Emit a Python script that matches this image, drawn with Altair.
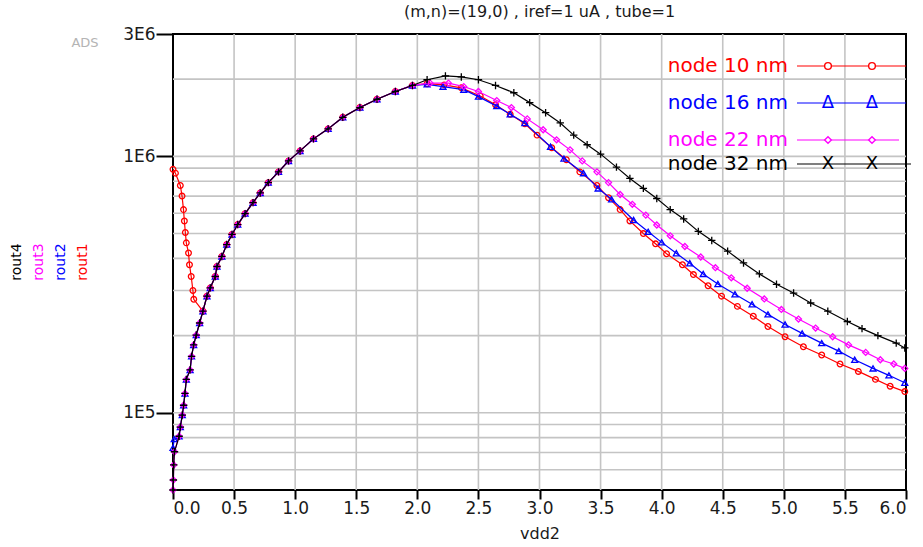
import altair as alt
import pandas as pd

TITLE = "(m,n)=(19,0) , iref=1 uA , tube=1"
X_TITLE = "vdd2"
X_TICKS = [0.0, 0.5, 1.0, 1.5, 2.0, 2.5, 3.0, 3.5, 4.0, 4.5, 5.0, 5.5, 6.0]
Y_TICKS = [1e5, 1e6, 3e6]
GRID_X = [0.5, 1.0, 1.5, 2.0, 2.5, 3.0, 3.5, 4.0, 4.5, 5.0, 5.5]
GRID_Y = [6e4, 7e4, 8e4, 9e4, 1e5, 2e5, 3e5, 4e5, 5e5, 6e5, 7e5, 8e5, 9e5, 1e6, 2e6]

SERIES = ["rout1", "rout2", "rout3", "rout4"]
LABELS = ["node 10 nm", "node 16 nm", "node 22 nm", "node 32 nm"]
COLORS = ["#ff0000", "#0000ff", "#ff00ff", "#000000"]

# common rising part (all curves coincide)
RISE_X = [0.000, 0.003, 0.006, 0.012, 0.050, 0.060, 0.076, 0.087, 0.098, 0.109, 0.140,
          0.152, 0.169, 0.190, 0.218, 0.245, 0.278, 0.305, 0.346, 0.360, 0.400, 0.440,
          0.483, 0.530, 0.590, 0.655, 0.714, 0.780, 0.864, 0.946, 1.040, 1.150, 1.270,
          1.390, 1.530, 1.670, 1.820, 1.960]
RISE_Y = [5.0e4, 5.47e4, 6.26e4, 7.05e4, 8.1e4, 8.8e4, 9.8e4, 1.07e5, 1.19e5, 1.35e5, 1.47e5,
          1.66e5, 1.84e5, 2.01e5, 2.24e5, 2.49e5, 2.85e5, 3.07e5, 3.4e5, 3.72e5, 4.07e5, 4.53e5,
          4.96e5, 5.42e5, 5.98e5, 6.6e5, 7.2e5, 7.9e5, 8.7e5, 9.6e5, 1.05e6, 1.17e6, 1.28e6,
          1.42e6, 1.55e6, 1.67e6, 1.79e6, 1.89e6]

# rout1 (red) starting branch
R1_HEAD_X = [0.0, 0.02, 0.06, 0.074, 0.086, 0.093, 0.101, 0.109, 0.127, 0.135, 0.149, 0.163, 0.17]
R1_HEAD_Y = [8.9e5, 8.6e5, 7.7e5, 7.0e5, 6.2e5, 5.6e5, 5.05e5, 4.6e5, 4.2e5, 3.78e5, 3.4e5, 3.0e5, 2.77e5]
R1_JOIN = 0.245
R1_TAIL_X = [2.08, 2.22, 2.36, 2.515, 2.64, 2.76, 2.88, 2.98, 3.10, 3.22, 3.33, 3.47, 3.565,
             3.66, 3.74, 3.85, 3.95, 4.04, 4.17, 4.26, 4.38, 4.49, 4.62, 4.75, 4.87, 5.01,
             5.16, 5.31, 5.46, 5.61, 5.75, 5.87, 5.99]
R1_TAIL_Y = [1.92e6, 1.90e6, 1.85e6, 1.72e6, 1.59e6, 1.46e6, 1.34e6, 1.21e6, 1.08e6, 9.7e5,
             8.7e5, 7.7e5, 6.9e5, 6.2e5, 5.6e5, 5.0e5, 4.56e5, 4.17e5, 3.78e5, 3.46e5, 3.13e5,
             2.85e5, 2.6e5, 2.38e5, 2.17e5, 1.98e5, 1.81e5, 1.68e5, 1.55e5, 1.45e5, 1.35e5,
             1.27e5, 1.21e5]

# rout2 (blue)
R2_HEAD_X = [0.0, 0.01]
R2_HEAD_Y = [7.3e4, 7.9e4]
R2_JOIN = 0.05
R2_TAIL_X = [2.08, 2.21, 2.38, 2.50, 2.65, 2.76, 2.88, 3.09, 3.20, 3.36, 3.48, 3.59, 3.77,
             3.89, 4.00, 4.12, 4.23, 4.34, 4.46, 4.60, 4.74, 4.87, 5.01, 5.15, 5.31, 5.45,
             5.58, 5.73, 5.86, 5.99]
R2_TAIL_Y = [1.91e6, 1.87e6, 1.82e6, 1.71e6, 1.57e6, 1.46e6, 1.35e6, 1.09e6, 9.8e5, 8.6e5,
             7.5e5, 6.8e5, 5.65e5, 5.08e5, 4.62e5, 4.19e5, 3.83e5, 3.48e5, 3.18e5, 2.9e5,
             2.65e5, 2.42e5, 2.21e5, 2.04e5, 1.87e5, 1.74e5, 1.61e5, 1.49e5, 1.40e5, 1.31e5]

# rout3 (magenta)
R3_TAIL_X = [2.105, 2.255, 2.38, 2.50, 2.65, 2.77, 2.90, 3.03, 3.14, 3.25, 3.35, 3.47, 3.565,
             3.66, 3.76, 3.87, 3.96, 4.07, 4.19, 4.32, 4.44, 4.57, 4.70, 4.84, 4.98, 5.12,
             5.26, 5.40, 5.53, 5.67, 5.79, 5.90, 5.99]
R3_TAIL_Y = [1.93e6, 1.93e6, 1.87e6, 1.79e6, 1.65e6, 1.55e6, 1.40e6, 1.27e6, 1.16e6, 1.06e6,
             9.6e5, 8.7e5, 7.9e5, 7.1e5, 6.5e5, 5.9e5, 5.4e5, 4.9e5, 4.45e5, 4.05e5, 3.68e5,
             3.36e5, 3.06e5, 2.78e5, 2.53e5, 2.32e5, 2.14e5, 1.98e5, 1.84e5, 1.72e5, 1.61e5,
             1.55e5, 1.49e5]

# rout4 (black)
R4_TAIL_X = [2.08, 2.23, 2.36, 2.50, 2.64, 2.79, 2.92, 3.05, 3.17, 3.28, 3.39, 3.50, 3.63,
             3.74, 3.85, 3.96, 4.07, 4.18, 4.30, 4.41, 4.54, 4.67, 4.80, 4.94, 5.08, 5.22,
             5.36, 5.52, 5.64, 5.77, 5.92, 5.99]
R4_TAIL_Y = [1.99e6, 2.06e6, 2.04e6, 1.99e6, 1.89e6, 1.77e6, 1.62e6, 1.48e6, 1.35e6, 1.21e6,
             1.11e6, 1.02e6, 9.08e5, 8.2e5, 7.5e5, 6.85e5, 6.2e5, 5.7e5, 5.1e5, 4.7e5, 4.27e5,
             3.84e5, 3.48e5, 3.17e5, 2.93e5, 2.68e5, 2.49e5, 2.27e5, 2.13e5, 2.0e5, 1.87e5, 1.79e5]


def assemble(head_x, head_y, join, tail_x, tail_y):
    xs = list(head_x) + [x for x in RISE_X if x >= join] + list(tail_x)
    ys = list(head_y) + [y for x, y in zip(RISE_X, RISE_Y) if x >= join] + list(tail_y)
    return pd.DataFrame({"x": xs, "y": ys, "i": range(len(xs))})


frames = [
    assemble(R1_HEAD_X, R1_HEAD_Y, R1_JOIN, R1_TAIL_X, R1_TAIL_Y),
    assemble(R2_HEAD_X, R2_HEAD_Y, R2_JOIN, R2_TAIL_X, R2_TAIL_Y),
    assemble([], [], 0.0, R3_TAIL_X, R3_TAIL_Y),
    assemble([], [], 0.0, R4_TAIL_X, R4_TAIL_Y),
]

PLUS = "M-1,0L1,0M0,-1L0,1"
SHAPES = ["circle", "triangle-up", "diamond", PLUS]
SIZES = [32, 36, 36, 55]

W, H = 733, 456
FONT = "DejaVu Sans"

XS = alt.Scale(domain=[0, 6], nice=False, zero=False)
YS = alt.Scale(type="log", domain=[5e4, 3e6], nice=False)
XA = alt.Axis(values=X_TICKS, format=".1f", grid=False, domain=False, tickSize=9, tickWidth=2,
              tickColor="black", labelFont=FONT, labelFontSize=17, labelColor="#1a1a1a",
              labelPadding=1, title=X_TITLE, titleFont=FONT, titleFontSize=16,
              titleFontWeight="normal", titleColor="#1a1a1a", titlePadding=9)
YA = alt.Axis(values=Y_TICKS, labelExpr="replace(format(datum.value, '.0e'), 'e+', 'E')",
              grid=False, domain=False, tickSize=17, tickWidth=2, tickColor="black",
              labelFont=FONT, labelFontSize=17, labelColor="#1a1a1a", labelPadding=1,
              title=None)

one = pd.DataFrame({"a": [0]})

grid_x = alt.Chart(pd.DataFrame({"gx": GRID_X})).mark_rule(color="#c4c4c4", strokeWidth=1.6).encode(
    x=alt.X("gx:Q", scale=XS, axis=XA))
grid_y = alt.Chart(pd.DataFrame({"gy": GRID_Y})).mark_rule(color="#c4c4c4", strokeWidth=1.6).encode(
    y=alt.Y("gy:Q", scale=YS, axis=YA))

layers = [grid_x, grid_y]
for k in range(4):
    c = COLORS[k]
    layers.append(
        alt.Chart(frames[k]).mark_line(
            color=c, strokeWidth=1.2,
            point=alt.OverlayMarkDef(shape=SHAPES[k], filled=False, size=SIZES[k], color=c,
                                     strokeWidth=1.3)
        ).encode(
            x=alt.X("x:Q", scale=XS, axis=XA),
            y=alt.Y("y:Q", scale=YS, axis=YA),
            order="i:Q",
        )
    )

# legend (inside plot, top right)
LEG_ROWS = [32, 69, 106, 130]
LEG_TEXT_X = 615
LEG_LINE = (624, 733)
LEG_MARK_X = [655, 699]
for k in range(4):
    c = COLORS[k]
    ry = LEG_ROWS[k]
    x2 = 726 if k == 2 else (738 if k == 3 else LEG_LINE[1])
    layers.append(alt.Chart(one).mark_rule(color=c, strokeWidth=1.2).encode(
        x=alt.value(LEG_LINE[0]), x2=alt.value(x2), y=alt.value(ry)))
    layers.append(alt.Chart(one).mark_text(text=LABELS[k], align="right", baseline="middle",
                                           font=FONT, fontSize=20, color=c).encode(
        x=alt.value(LEG_TEXT_X), y=alt.value(ry)))
    for mx in LEG_MARK_X:
        if k in (0, 2):
            layers.append(alt.Chart(one).mark_point(shape=SHAPES[k], filled=True, fill="white",
                                                    stroke=c, size=45, strokeWidth=1.4,
                                                    opacity=1).encode(
                x=alt.value(mx), y=alt.value(ry)))
        else:
            glyph = "\u0394" if k == 1 else "X"
            layers.append(alt.Chart(one).mark_text(text=glyph, align="center", baseline="middle",
                                                   font=FONT, fontSize=18, color=c).encode(
                x=alt.value(mx), y=alt.value(ry)))

# title, ADS mark, rotated y labels
layers.append(alt.Chart(one).mark_text(text=TITLE, align="center", baseline="middle", font=FONT,
                                       fontSize=16, color="#1a1a1a").encode(
    x=alt.value(W / 2), y=alt.value(-22)))
layers.append(alt.Chart(one).mark_text(text="ADS", align="center", baseline="middle", font=FONT,
                                       fontSize=13, color="#b4b4b4").encode(
    x=alt.value(-88), y=alt.value(9)))
ROUT_X = [-156, -134, -112, -90]
for k, name in enumerate(["rout4", "rout3", "rout2", "rout1"]):
    col = COLORS[3 - k]
    layers.append(alt.Chart(one).mark_text(text=name, align="center", baseline="middle", font=FONT,
                                           fontSize=14, angle=270, color=col).encode(
        x=alt.value(ROUT_X[k]), y=alt.value(228)))

chart = alt.layer(*layers).properties(
    width=W, height=H,
    autosize=alt.AutoSizeParams(type="none"),
    padding={"left": 173, "top": 34, "right": 923 - 173 - W, "bottom": 547 - 34 - H},
    background="white",
).configure_view(stroke="black", strokeWidth=2)

chart.save("out.html", embed_options={"renderer": "svg", "actions": False})
